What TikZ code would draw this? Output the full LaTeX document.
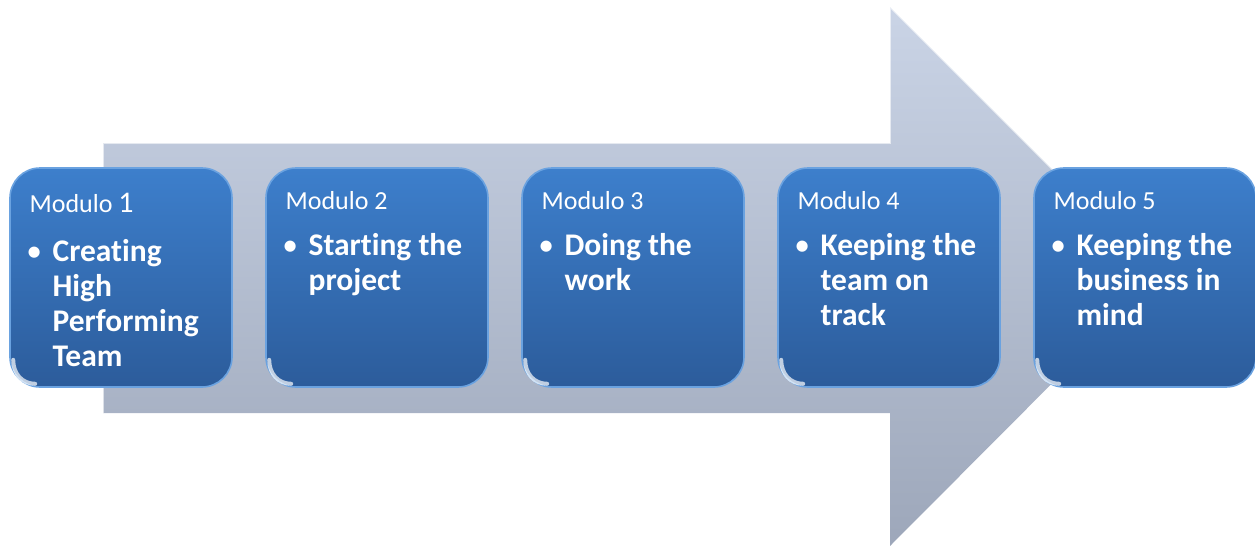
\documentclass[tikz,border=0pt]{standalone}
\usepackage{fontspec}
\setmainfont[Ligatures=NoCommon]{Carlito}
\usepackage{tikz}
\usepackage{xcolor}
\usetikzlibrary{calc}

\definecolor{pfeiloben}{HTML}{CAD4E6}
\definecolor{pfeilunten}{HTML}{9DA7BA}
\definecolor{boxoben}{HTML}{3D7FCC}
\definecolor{boxunten}{HTML}{2C5C9B}
\definecolor{boxrand}{HTML}{6AA2E0}

\tikzset{
	modul/.style={rounded corners=15pt, top color=boxoben, bottom color=boxunten,
		draw=boxrand, line width=0.8pt, minimum width=111pt, minimum height=109.5pt, inner sep=0pt},
	titel/.style={anchor=base west, inner sep=0pt, text=white, font=\fontsize{13pt}{15pt}\selectfont},
	punkt/.style={anchor=base west, inner sep=0pt, text=white, font=\fontsize{15.75pt}{17.5pt}\selectfont\bfseries},
	glanz/.style={white, opacity=0.7, line width=2pt, line cap=round},
}

\begin{document}
\begin{tikzpicture}[x=0.5pt, y=-0.5pt]
	\useasboundingbox (0,0) rectangle (1255,546);
	% grosser pfeil im hintergrund
	\shade[top color=pfeiloben, bottom color=pfeilunten] (103,143) -- (890,143) -- (890,7) -- (1159,276) -- (890,546) -- (890,413) -- (103,413) -- cycle;
	\draw[white, opacity=0.6, line width=0.8pt] (103,413) -- (103,143) -- (890,143) -- (890,7) -- (1159,276);
	% fuenf module
	\foreach \i/\ty/\py/\titeltext/\inhalt in {
		1/45/94/{Modulo {\fontsize{15pt}{15pt}\selectfont 1}}/{Creating\\High\\Performing\\Team},
		2/42/88/{Modulo 2}/{Starting the\\project},
		3/42/88/{Modulo 3}/{Doing the\\work},
		4/42/88/{Modulo 4}/{Keeping the\\team on\\track},
		5/42/88/{Modulo 5}/{Keeping the\\business in\\mind}} {
		\node[modul] (b\i) at ({121+256*(\i-1)}, 277.5) {};
		% glanz unten links
		\draw[glanz] ($(b\i.south west)+(4,-28)$) .. controls ($(b\i.south west)+(4,-14)$) and ($(b\i.south west)+(13,-4)$) .. ($(b\i.south west)+(26,-4)$);
		\node[titel] (t\i) at ($(b\i.north west)+(20,\ty)$) {\titeltext};
		\node[punkt, anchor=base] (p\i) at ($(b\i.north west)+(25,\py)$) {\mdseries\textbullet};
		\node[punkt] (x\i) at ($(b\i.north west)+(43,\py)$) {\parbox[t]{100pt}{\raggedright\inhalt}};
	}
\end{tikzpicture}
\end{document}
